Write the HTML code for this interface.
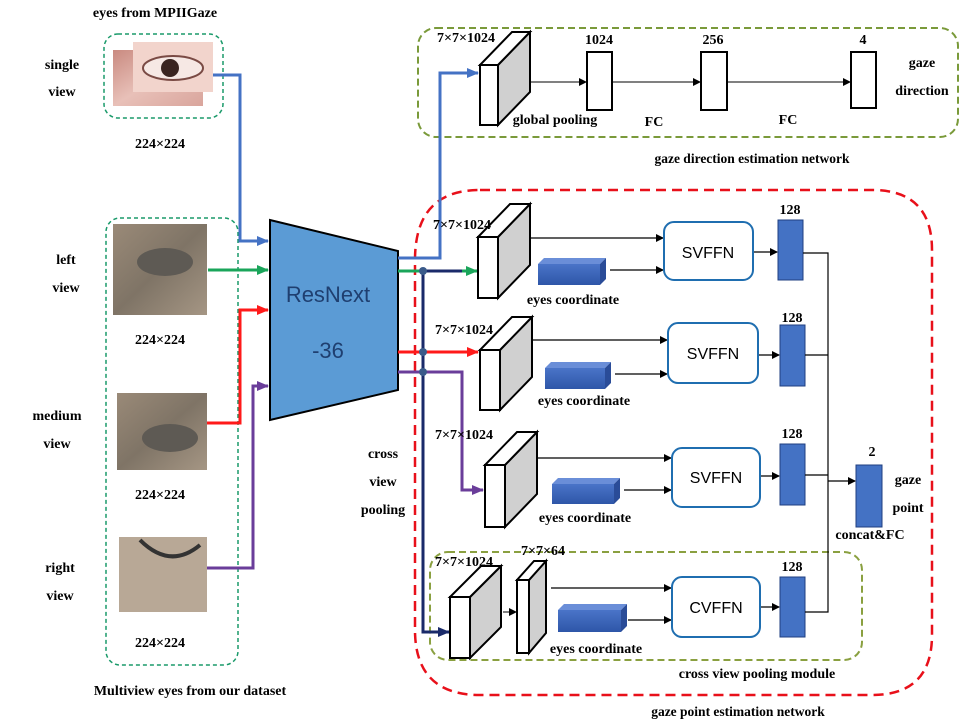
<!DOCTYPE html>
<html><head><meta charset="utf-8"><style>
body{margin:0;background:#fff}
svg{display:block}
text{font-family:"Liberation Serif",serif;font-weight:bold;font-size:14px;fill:#000}
.s{font-family:"Liberation Sans",sans-serif;font-weight:normal}
</style></head><body>
<svg width="964" height="723" viewBox="0 0 964 723" xmlns="http://www.w3.org/2000/svg">
<defs>
<marker id="ak" markerWidth="8" markerHeight="8" refX="7" refY="4" orient="auto" markerUnits="userSpaceOnUse"><path d="M0,0 L8,4 L0,8z" fill="#000"/></marker>
<marker id="ab" markerWidth="12" markerHeight="10" refX="11" refY="5" orient="auto" markerUnits="userSpaceOnUse"><path d="M0,0 L12,5 L0,10z" fill="#4472c4"/></marker>
<marker id="ag" markerWidth="12" markerHeight="10" refX="11" refY="5" orient="auto" markerUnits="userSpaceOnUse"><path d="M0,0 L12,5 L0,10z" fill="#1aa55a"/></marker>
<marker id="ar" markerWidth="12" markerHeight="10" refX="11" refY="5" orient="auto" markerUnits="userSpaceOnUse"><path d="M0,0 L12,5 L0,10z" fill="#ff1a1a"/></marker>
<marker id="ap" markerWidth="12" markerHeight="10" refX="11" refY="5" orient="auto" markerUnits="userSpaceOnUse"><path d="M0,0 L12,5 L0,10z" fill="#6a3d9a"/></marker>
<marker id="an" markerWidth="12" markerHeight="10" refX="11" refY="5" orient="auto" markerUnits="userSpaceOnUse"><path d="M0,0 L12,5 L0,10z" fill="#1a2a6a"/></marker>
<linearGradient id="skin" x1="0" y1="0" x2="1" y2="1"><stop offset="0" stop-color="#c98a80"/><stop offset=".5" stop-color="#e8c0b8"/><stop offset="1" stop-color="#d9a59c"/></linearGradient>
<linearGradient id="grey" x1="0" y1="0" x2="1" y2="1"><stop offset="0" stop-color="#9a8a78"/><stop offset=".5" stop-color="#7f7466"/><stop offset="1" stop-color="#a59684"/></linearGradient>
<linearGradient id="bar" x1="0" y1="0" x2="0" y2="1"><stop offset="0" stop-color="#4a74c8"/><stop offset="1" stop-color="#2e56a8"/></linearGradient>
</defs>

<text x="155" y="17" text-anchor="middle">eyes from MPIIGaze</text>
<text x="62" y="69" text-anchor="middle">single</text>
<text x="62" y="96" text-anchor="middle">view</text>
<rect x="104" y="34" width="119" height="84" rx="14" fill="none" stroke="#1a9a6a" stroke-width="1.5" stroke-dasharray="4,3"/>
<rect x="113" y="50" width="90" height="56" fill="url(#skin)"/>
<rect x="133" y="42" width="80" height="50" fill="#f2d4cc"/>
<ellipse cx="173" cy="68" rx="30" ry="12" fill="#f6e8e4" stroke="#7a4a44" stroke-width="2"/>
<circle cx="170" cy="68" r="9" fill="#3a2420"/>
<text x="160" y="148" text-anchor="middle">224×224</text>

<rect x="106" y="218" width="132" height="447" rx="14" fill="none" stroke="#1a9a6a" stroke-width="1.5" stroke-dasharray="4,3"/>
<text x="66" y="264" text-anchor="middle">left</text>
<text x="66" y="292" text-anchor="middle">view</text>
<rect x="113" y="224" width="94" height="91" fill="url(#grey)"/>
<ellipse cx="165" cy="262" rx="28" ry="14" fill="#5e5a54"/>
<text x="160" y="344" text-anchor="middle">224×224</text>
<text x="57" y="420" text-anchor="middle">medium</text>
<text x="57" y="448" text-anchor="middle">view</text>
<rect x="117" y="393" width="90" height="77" fill="url(#grey)"/>
<ellipse cx="170" cy="438" rx="28" ry="14" fill="#5e5a54"/>
<text x="160" y="499" text-anchor="middle">224×224</text>
<text x="60" y="572" text-anchor="middle">right</text>
<text x="60" y="600" text-anchor="middle">view</text>
<rect x="119" y="537" width="88" height="75" fill="#b8a896"/>
<path d="M140 540 Q170 570 200 545" stroke="#333" stroke-width="4" fill="none"/>
<text x="160" y="647" text-anchor="middle">224×224</text>
<text x="190" y="695" text-anchor="middle">Multiview eyes from our dataset</text>

<polygon points="270,220 398,251 398,390 270,420" fill="#5b9bd5" stroke="#000" stroke-width="2"/>
<text class="s" x="328" y="302" text-anchor="middle" style="font-size:22px;fill:#1f3f70">ResNext</text>
<text class="s" x="328" y="358" text-anchor="middle" style="font-size:22px;fill:#1f3f70">-36</text>

<polyline points="213,75 240,75 240,241 268,241" fill="none" stroke="#4472c4" stroke-width="3" marker-end="url(#ab)"/>
<polyline points="208,270 268,270" fill="none" stroke="#1aa55a" stroke-width="3" marker-end="url(#ag)"/>
<polyline points="207,423 240,423 240,310 268,310" fill="none" stroke="#ff1a1a" stroke-width="3" marker-end="url(#ar)"/>
<polyline points="207,568 253,568 253,386 268,386" fill="none" stroke="#6a3d9a" stroke-width="3" marker-end="url(#ap)"/>

<rect x="418" y="28" width="540" height="109" rx="18" fill="none" stroke="#7a9a3a" stroke-width="2" stroke-dasharray="7,4"/>
<text x="752" y="163" text-anchor="middle" style="font-size:13.5px">gaze direction estimation network</text>
<text x="466" y="42" text-anchor="middle">7×7×1024</text>
<polygon points="498,65 530,32 530,92 498,125" fill="#d0d0d0" stroke="#000" stroke-width="2"/>
<polygon points="480,65 498,65 530,32 512,32" fill="#fff" stroke="#000" stroke-width="2"/>
<rect x="480" y="65" width="18" height="60" fill="#fff" stroke="#000" stroke-width="2"/>
<rect x="587" y="52" width="25" height="58" fill="#fff" stroke="#000" stroke-width="2"/>
<rect x="701" y="52" width="26" height="58" fill="#fff" stroke="#000" stroke-width="2"/>
<rect x="851" y="52" width="25" height="56" fill="#fff" stroke="#000" stroke-width="2"/>
<line x1="531" y1="82" x2="586" y2="82" stroke="#000" marker-end="url(#ak)"/>
<line x1="613" y1="82" x2="700" y2="82" stroke="#000" marker-end="url(#ak)"/>
<line x1="728" y1="82" x2="850" y2="82" stroke="#000" marker-end="url(#ak)"/>
<text x="599" y="44" text-anchor="middle">1024</text>
<text x="713" y="44" text-anchor="middle">256</text>
<text x="863" y="44" text-anchor="middle">4</text>
<text x="555" y="124" text-anchor="middle">global pooling</text>
<text x="654" y="126" text-anchor="middle">FC</text>
<text x="788" y="124" text-anchor="middle">FC</text>
<text x="922" y="67" text-anchor="middle">gaze</text>
<text x="922" y="95" text-anchor="middle">direction</text>

<path d="M480,190 L872,190 Q932,190 932,250 L932,635 Q932,695 872,695 L480,695 Q415,695 415,630 L415,260 Q415,190 480,190 Z" fill="none" stroke="#e8101a" stroke-width="2.5" stroke-dasharray="10,6"/>
<text x="738" y="716" text-anchor="middle" style="font-size:13.5px">gaze point estimation network</text>
<rect x="430" y="552" width="432" height="108" rx="18" fill="none" stroke="#8aa040" stroke-width="2" stroke-dasharray="7,4"/>
<text x="757" y="678" text-anchor="middle">cross view pooling module</text>

<polyline points="398,258 440,258 440,73 478,73" fill="none" stroke="#4472c4" stroke-width="3" marker-end="url(#ab)"/>
<polyline points="398,271 424,271" fill="none" stroke="#1aa55a" stroke-width="3"/>
<polyline points="424,271 476,271" fill="none" stroke="#1a2a6a" stroke-width="3"/>
<line x1="462" y1="271" x2="477" y2="271" stroke="#1aa55a" stroke-width="3" marker-end="url(#ag)"/>
<polyline points="398,352 478,352" fill="none" stroke="#ff1a1a" stroke-width="3" marker-end="url(#ar)"/>
<polyline points="398,372 462,372 462,490 483,490" fill="none" stroke="#6a3d9a" stroke-width="3" marker-end="url(#ap)"/>
<polyline points="423,271 423,632 449,632" fill="none" stroke="#1a2a6a" stroke-width="3" marker-end="url(#an)"/>
<circle cx="423" cy="271" r="4" fill="#3a5a8a"/>
<circle cx="423" cy="352" r="4" fill="#3a5a8a"/>
<circle cx="423" cy="372" r="4" fill="#3a5a8a"/>
<text x="383" y="458" text-anchor="middle">cross</text>
<text x="383" y="486" text-anchor="middle">view</text>
<text x="383" y="514" text-anchor="middle">pooling</text>

<g stroke="#000" stroke-width="2">
<polygon points="498,237 530,204 530,265 498,298" fill="#d0d0d0"/><polygon points="478,237 498,237 530,204 510,204" fill="#fff"/><rect x="478" y="237" width="20" height="61" fill="#fff"/>
<polygon points="500,350 532,317 532,377 500,410" fill="#d0d0d0"/><polygon points="480,350 500,350 532,317 512,317" fill="#fff"/><rect x="480" y="350" width="20" height="60" fill="#fff"/>
<polygon points="505,465 537,432 537,494 505,527" fill="#d0d0d0"/><polygon points="485,465 505,465 537,432 517,432" fill="#fff"/><rect x="485" y="465" width="20" height="62" fill="#fff"/>
<polygon points="470,597 501,566 501,627 470,658" fill="#d0d0d0"/><polygon points="450,597 470,597 501,566 481,566" fill="#fff"/><rect x="450" y="597" width="20" height="61" fill="#fff"/>
<polygon points="529,580 546,561 546,633 529,653" fill="#d0d0d0"/><polygon points="517,580 529,580 546,561 534,561" fill="#fff"/><rect x="517" y="580" width="12" height="73" fill="#fff"/>
</g>
<line x1="503" y1="612" x2="516" y2="612" stroke="#000" marker-end="url(#ak)"/>
<text x="462" y="229" text-anchor="middle">7×7×1024</text>
<text x="464" y="334" text-anchor="middle">7×7×1024</text>
<text x="464" y="439" text-anchor="middle">7×7×1024</text>
<text x="464" y="566" text-anchor="middle">7×7×1024</text>
<text x="543" y="555" text-anchor="middle">7×7×64</text>

<g>
<polygon points="538,264 600,264 606,258 544,258" fill="#6a8ed8"/><rect x="538" y="264" width="62" height="21" fill="url(#bar)"/><polygon points="600,264 606,258 606,279 600,285" fill="#2a4c98"/>
<polygon points="545,368 605,368 611,362 551,362" fill="#6a8ed8"/><rect x="545" y="368" width="60" height="21" fill="url(#bar)"/><polygon points="605,368 611,362 611,383 605,389" fill="#2a4c98"/>
<polygon points="552,484 614,484 620,478 558,478" fill="#6a8ed8"/><rect x="552" y="484" width="62" height="20" fill="url(#bar)"/><polygon points="614,484 620,478 620,498 614,504" fill="#2a4c98"/>
<polygon points="558,610 621,610 627,604 564,604" fill="#6a8ed8"/><rect x="558" y="610" width="63" height="22" fill="url(#bar)"/><polygon points="621,610 627,604 627,626 621,632" fill="#2a4c98"/>
</g>
<text x="573" y="304" text-anchor="middle">eyes coordinate</text>
<text x="584" y="405" text-anchor="middle">eyes coordinate</text>
<text x="585" y="522" text-anchor="middle">eyes coordinate</text>
<text x="596" y="653" text-anchor="middle">eyes coordinate</text>

<g stroke="#000" stroke-width="1.2">
<line x1="531" y1="238" x2="663" y2="238" marker-end="url(#ak)"/>
<line x1="610" y1="270" x2="663" y2="270" marker-end="url(#ak)"/>
<line x1="533" y1="340" x2="667" y2="340" marker-end="url(#ak)"/>
<line x1="615" y1="374" x2="667" y2="374" marker-end="url(#ak)"/>
<line x1="538" y1="458" x2="671" y2="458" marker-end="url(#ak)"/>
<line x1="624" y1="490" x2="671" y2="490" marker-end="url(#ak)"/>
<line x1="551" y1="588" x2="671" y2="588" marker-end="url(#ak)"/>
<line x1="628" y1="620" x2="671" y2="620" marker-end="url(#ak)"/>
</g>
<g fill="#fff" stroke="#1f6eb0" stroke-width="2">
<rect x="664" y="222" width="89" height="58" rx="10"/>
<rect x="668" y="323" width="90" height="60" rx="10"/>
<rect x="672" y="448" width="88" height="59" rx="10"/>
<rect x="672" y="577" width="88" height="60" rx="10"/>
</g>
<text class="s" x="708" y="258" text-anchor="middle" style="font-size:16px">SVFFN</text>
<text class="s" x="713" y="359" text-anchor="middle" style="font-size:16px">SVFFN</text>
<text class="s" x="716" y="483" text-anchor="middle" style="font-size:16px">SVFFN</text>
<text class="s" x="716" y="613" text-anchor="middle" style="font-size:16px">CVFFN</text>

<g fill="#4472c4" stroke="#1f3f80" stroke-width="1">
<rect x="778" y="220" width="25" height="60"/>
<rect x="780" y="325" width="25" height="61"/>
<rect x="780" y="444" width="25" height="61"/>
<rect x="780" y="577" width="25" height="60"/>
<rect x="856" y="465" width="26" height="62"/>
</g>
<g stroke="#000" stroke-width="1.2" fill="none">
<line x1="754" y1="252" x2="777" y2="252" marker-end="url(#ak)"/>
<line x1="759" y1="355" x2="779" y2="355" marker-end="url(#ak)"/>
<line x1="761" y1="476" x2="779" y2="476" marker-end="url(#ak)"/>
<line x1="761" y1="607" x2="779" y2="607" marker-end="url(#ak)"/>
<polyline points="803,253 828,253 828,612 805,612"/>
<line x1="805" y1="355" x2="828" y2="355"/>
<line x1="805" y1="475" x2="828" y2="475"/>
<line x1="828" y1="481" x2="855" y2="481" marker-end="url(#ak)"/>
</g>
<text x="790" y="214" text-anchor="middle">128</text>
<text x="792" y="322" text-anchor="middle">128</text>
<text x="792" y="438" text-anchor="middle">128</text>
<text x="792" y="571" text-anchor="middle">128</text>
<text x="872" y="456" text-anchor="middle">2</text>
<text x="908" y="484" text-anchor="middle">gaze</text>
<text x="908" y="512" text-anchor="middle">point</text>
<text x="870" y="539" text-anchor="middle">concat&amp;FC</text>
</svg>
</body></html>
